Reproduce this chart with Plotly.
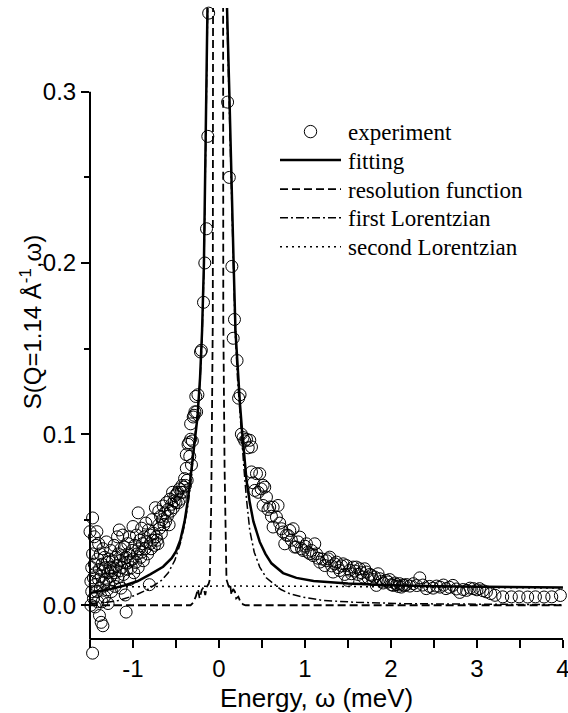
import plotly.graph_objects as go

# ---------------- data ----------------
# experiment, energy-loss side (omega < 0)
exp_energy_neg = [
    -1.50, -1.49, -1.49, -1.48, -1.48, -1.47, -1.47, -1.47, -1.46, -1.46, -1.45, -1.45, -1.44, -1.44, -1.43, -1.43, -1.42, -1.42, -1.41, -1.41, -1.40, -1.40,
    -1.39, -1.39, -1.38, -1.38, -1.37, -1.37, -1.36, -1.36, -1.35, -1.35, -1.34, -1.34, -1.33, -1.33, -1.32, -1.31, -1.31, -1.30, -1.30,
    -1.29, -1.29, -1.28, -1.28, -1.27, -1.26, -1.26, -1.25, -1.25, -1.24, -1.23, -1.23, -1.22, -1.21, -1.21, -1.20,
    -1.19, -1.18, -1.18, -1.17, -1.16, -1.16, -1.15, -1.14, -1.14, -1.13, -1.12, -1.12, -1.11, -1.10, -1.10,
    -1.09, -1.08, -1.08, -1.07, -1.06, -1.06, -1.05, -1.04, -1.04, -1.03, -1.02, -1.01, -1.00, -1.00,
    -0.99, -0.98, -0.97, -0.96, -0.95, -0.94, -0.94, -0.93, -0.92, -0.91, -0.90, -0.90,
    -0.89, -0.88, -0.87, -0.86, -0.85, -0.84, -0.83, -0.82, -0.81, -0.80, -0.80,
    -0.79, -0.78, -0.77, -0.76, -0.75, -0.74, -0.73, -0.72, -0.71, -0.70, -0.70,
    -0.69, -0.68, -0.67, -0.66, -0.65, -0.64, -0.63, -0.62, -0.61, -0.60,
    -0.59, -0.58, -0.57, -0.56, -0.55, -0.54, -0.53, -0.52, -0.51, -0.50,
    -0.49, -0.48, -0.47, -0.46, -0.45, -0.44, -0.43, -0.42, -0.41, -0.40, -0.39, -0.38, -0.38, -0.37, -0.36, -0.35, -0.34,
    -0.33, -0.33, -0.32, -0.31, -0.30, -0.29, -0.28, -0.27, -0.26, -0.245, -0.215, -0.205, -0.18, -0.165, -0.145, -0.13, -0.12,
]
exp_intensity_neg = [
    0.043, 0.014, 0.000, 0.022, 0.008, 0.051, -0.028, 0.030, 0.016, 0.004, 0.040, 0.024, 0.012, -0.001, 0.035, 0.019, 0.008, 0.043, 0.027, 0.002, 0.015, 0.036,
    0.021, -0.006, 0.010, 0.030, 0.017, -0.010, 0.024, 0.002, -0.012, 0.033, 0.013, 0.020, 0.005, 0.028, 0.022, 0.015, 0.037, 0.009, 0.025,
    0.019, 0.001, 0.027, 0.013, 0.022, 0.017, 0.032, 0.020, 0.008, 0.026, 0.015, 0.022, 0.035, 0.019, 0.011, 0.028,
    0.023, 0.040, 0.016, 0.030, 0.020, 0.044, 0.026, 0.010, 0.033, 0.022, 0.029, 0.041, 0.018, 0.025, 0.034,
    0.006, -0.004, 0.028, 0.021, 0.036, 0.025, 0.030, 0.015, 0.040, 0.026, 0.022, 0.032, 0.027, 0.046,
    0.019, 0.035, 0.025, 0.041, 0.030, 0.054, 0.022, 0.033, 0.038, 0.028, 0.045, 0.031,
    0.036, 0.026, 0.040, 0.033, 0.048, 0.037, 0.030, 0.044, 0.012, 0.036, 0.041,
    0.033, 0.050, 0.038, 0.042, 0.035, 0.057, 0.040, 0.038, 0.036, 0.047, 0.055,
    0.045, 0.052, 0.042, 0.050, 0.058, 0.047, 0.054, 0.049, 0.060, 0.052,
    0.056, 0.047, 0.062, 0.055, 0.059, 0.066, 0.057, 0.061, 0.064, 0.060,
    0.065, 0.066, 0.060, 0.068, 0.062, 0.066, 0.070, 0.066, 0.069, 0.074, 0.070, 0.080, 0.088, 0.073, 0.094, 0.095, 0.087,
    0.097, 0.106, 0.082, 0.096, 0.110, 0.111, 0.113, 0.122, 0.113, 0.123, 0.148, 0.149, 0.177, 0.200, 0.220, 0.274, 0.346,
]
# experiment, energy-gain side (omega > 0)
exp_energy_pos = [
    0.10, 0.12, 0.15, 0.165, 0.18, 0.21, 0.228, 0.245, 0.26, 0.28, 0.30, 0.32, 0.34, 0.358, 0.378, 0.378, 0.40, 0.416, 0.436, 0.455,
    0.474, 0.49, 0.513, 0.513, 0.532, 0.552, 0.57, 0.59, 0.61, 0.63, 0.629, 0.668, 0.687, 0.706, 0.726, 0.745, 0.765, 0.785, 0.804, 0.823,
    0.842, 0.862, 0.88, 0.90, 0.92, 0.94, 0.96, 0.978, 1.00, 1.017, 1.035, 1.056, 1.075, 1.095, 1.114, 1.134, 1.15, 1.172, 1.20, 1.23,
    1.25, 1.27, 1.288, 1.31, 1.327, 1.345, 1.366, 1.385, 1.404, 1.425, 1.443, 1.462, 1.482, 1.50, 1.52, 1.54, 1.56, 1.58, 1.598, 1.617,
    1.637, 1.656, 1.676, 1.695, 1.715, 1.735, 1.755, 1.772, 1.79, 1.81, 1.83, 1.85, 1.87, 1.89, 1.91, 1.947, 1.965, 1.985, 2.005, 2.025,
    2.045, 2.065, 2.085, 2.10, 2.12, 2.14, 2.16, 2.18,
    2.22, 2.26, 2.30, 2.335, 2.37, 2.41, 2.45, 2.49, 2.53, 2.57, 2.61, 2.64, 2.68, 2.72, 2.76, 2.80, 2.84, 2.88, 2.92, 2.96,
    3.00, 3.03, 3.07, 3.11, 3.16, 3.21, 3.30, 3.40, 3.49, 3.59, 3.68, 3.78, 3.87, 3.97,
]
exp_intensity_pos = [
    0.294, 0.250, 0.198, 0.156, 0.167, 0.143, 0.121, 0.123, 0.100, 0.098, 0.096, 0.097, 0.092, 0.0964, 0.0925, 0.0779, 0.0715, 0.0671, 0.0769, 0.0660,
    0.0769, 0.0680, 0.0701, 0.0583, 0.0690, 0.0632, 0.0560, 0.0574, 0.0520, 0.0573, 0.0457, 0.0515, 0.0583, 0.0480, 0.0447, 0.0428, 0.0359, 0.0410, 0.0408, 0.0437,
    0.0380, 0.0447, 0.0340, 0.0340, 0.0370, 0.0398, 0.0330, 0.0320, 0.0345, 0.0359, 0.0310, 0.0301, 0.0320, 0.0290, 0.0359, 0.0300, 0.0275, 0.0252, 0.0270, 0.0232,
    0.0260, 0.0271, 0.0281, 0.0230, 0.0194, 0.0242, 0.0252, 0.0220, 0.0203, 0.0230, 0.0242, 0.0180, 0.0232, 0.0145, 0.0205, 0.0184, 0.0223, 0.0200, 0.0223, 0.0180,
    0.0213, 0.0190, 0.0165, 0.0213, 0.0194, 0.0160, 0.0180, 0.0174, 0.0150, 0.0165, 0.0116, 0.0184, 0.0155, 0.0140, 0.0130, 0.0145, 0.0136, 0.0150, 0.0120, 0.0116,
    0.0130, 0.0120, 0.0110, 0.0126, 0.0106, 0.0118, 0.0115, 0.0121,
    0.0112, 0.0126, 0.0115, 0.0160, 0.0118, 0.0097, 0.0110, 0.0100, 0.0112, 0.0106, 0.0118, 0.0097, 0.0105, 0.0116, 0.0095, 0.0075, 0.0092, 0.0087, 0.0100, 0.0097,
    0.0090, 0.0097, 0.0085, 0.0078, 0.0068, 0.0058, 0.0049, 0.0049, 0.0049, 0.0048, 0.0049, 0.0048, 0.0049, 0.0057,
]

# fitting curve
fit_energy = [-1.50, -1.44, -1.30, -1.10, -0.95, -0.80, -0.65, -0.55, -0.50, -0.45, -0.40, -0.36, -0.32, -0.28, -0.25, -0.22,
              -0.197, -0.175, -0.153, -0.13, -0.115, -0.09, -0.01, 0.07, 0.094, 0.12, 0.145, 0.17, 0.192, 0.22, 0.245, 0.27,
              0.29, 0.32, 0.358, 0.40, 0.474, 0.54, 0.61, 0.745, 0.90, 1.10, 1.50, 1.90, 2.50, 3.20, 4.00]
fit_intensity = [0.0072, 0.0077, 0.0090, 0.0115, 0.0140, 0.0180, 0.0225, 0.0275, 0.0315, 0.0380, 0.0490, 0.0620, 0.0790, 0.0960, 0.1100, 0.1330,
                 0.160, 0.200, 0.257, 0.310, 0.348, 0.45, 0.80, 0.45, 0.348, 0.300, 0.257, 0.200, 0.160, 0.135, 0.117, 0.101,
                 0.090, 0.073, 0.060, 0.049, 0.037, 0.030, 0.0245, 0.0188, 0.0160, 0.0142, 0.0127, 0.0118, 0.0111, 0.0106, 0.0103]

# resolution function
res_energy = [-1.50, -0.33, -0.30, -0.27, -0.245, -0.225, -0.20, -0.18, -0.16, -0.14, -0.12, -0.107, -0.09, -0.08, -0.072, -0.069,
              -0.06, -0.01, 0.04, 0.048, 0.05, 0.065, 0.087, 0.10, 0.115, 0.13, 0.145, 0.165, 0.185, 0.20, 0.225, 0.25, 0.28, 0.31, 4.00]
res_intensity = [0.0, 0.0, 0.0015, 0.005, 0.0095, 0.004, 0.009, 0.0105, 0.006, 0.011, 0.0125, 0.015, 0.06, 0.11, 0.167, 0.35,
                 0.8, 2.6, 0.8, 0.35, 0.167, 0.08, 0.015, 0.013, 0.0105, 0.012, 0.006, 0.0095, 0.008, 0.004, 0.005, 0.002, 0.0005, 0.0, 0.0]

# first Lorentzian
lor1_energy = [-1.50, -1.30, -1.17, -0.98, -0.82, -0.669, -0.59, -0.514, -0.45, -0.40, -0.359, -0.32, -0.281, -0.25, -0.22, -0.197,
               -0.175, -0.153, -0.13, -0.11, -0.09, -0.01, 0.07, 0.09, 0.115, 0.14, 0.165, 0.188, 0.215, 0.24, 0.27, 0.29, 0.32,
               0.358, 0.41, 0.474, 0.55, 0.63, 0.72, 0.823, 1.00, 1.21, 1.60, 2.18, 3.00, 4.00]
lor1_intensity = [0.0010, 0.0018, 0.0028, 0.0057, 0.0095, 0.0145, 0.019, 0.0262, 0.036, 0.047, 0.0593, 0.075, 0.098, 0.112, 0.131, 0.155,
                  0.195, 0.25, 0.305, 0.35, 0.45, 0.78, 0.45, 0.35, 0.30, 0.255, 0.20, 0.16, 0.133, 0.113, 0.094, 0.080, 0.062,
                  0.0437, 0.031, 0.0223, 0.016, 0.0126, 0.0092, 0.0067, 0.0045, 0.0028, 0.0017, 0.0009, 0.0005, 0.0003]

# second Lorentzian
lor2_energy = [-1.50, -0.50, 0.00, 1.00, 2.00, 3.00, 4.00]
lor2_intensity = [0.0106, 0.0111, 0.0112, 0.0111, 0.0108, 0.0104, 0.0100]

legend_labels = ["experiment", "fitting", "resolution function", "first Lorentzian", "second Lorentzian"]
x_title = "Energy, ω (meV)"
y_title = "S(Q=1.14 Å<sup>-1</sup>,ω)"
x_tick_vals = [-1, 0, 1, 2, 3, 4]
x_tick_text = ["-1", "0", "1", "2", "3", "4"]
x_minor_vals = [-1.5, -0.5, 0.5, 1.5, 2.5, 3.5]
y_tick_vals = [0.0, 0.1, 0.2, 0.3]
y_tick_text = ["0.0", "0.1", "0.2", "0.3"]
y_minor_vals = [0.05, 0.15, 0.25]

assert len(exp_energy_neg) == len(exp_intensity_neg), (len(exp_energy_neg), len(exp_intensity_neg))
assert len(exp_energy_pos) == len(exp_intensity_pos), (len(exp_energy_pos), len(exp_intensity_pos))
assert len(fit_energy) == len(fit_intensity)
assert len(res_energy) == len(res_intensity)
assert len(lor1_energy) == len(lor1_intensity)

# ---------------- styles ----------------
SANS = "Liberation Sans, Arial, sans-serif"
SERIF = "Liberation Serif, Times New Roman, serif"
X_RANGE = [-1.5, 4.0005]
Y_AXIS_BOTTOM = -0.02          # where the x axis crosses
Y_RANGE = [-0.032, 0.349]      # a little room below the axis for the lowest circle

line_styles = {
    "fitting": dict(color="black", width=2.5, dash="solid"),
    "resolution function": dict(color="black", width=1.8, dash="8px,4px"),
    "first Lorentzian": dict(color="black", width=1.5, dash="8px,3px,2px,3px"),
    "second Lorentzian": dict(color="black", width=1.5, dash="2px,4px"),
}

fig = go.Figure()
fig.add_trace(go.Scatter(x=lor2_energy, y=lor2_intensity, mode="lines", name=legend_labels[4],
                         line=line_styles["second Lorentzian"], showlegend=False))
fig.add_trace(go.Scatter(x=lor1_energy, y=lor1_intensity, mode="lines", name=legend_labels[3],
                         line=line_styles["first Lorentzian"], showlegend=False))
fig.add_trace(go.Scatter(x=res_energy, y=res_intensity, mode="lines", name=legend_labels[2],
                         line=line_styles["resolution function"], showlegend=False))
fig.add_trace(go.Scatter(x=fit_energy, y=fit_intensity, mode="lines", name=legend_labels[1],
                         line=line_styles["fitting"], showlegend=False))
fig.add_trace(go.Scatter(x=exp_energy_neg + exp_energy_pos, y=exp_intensity_neg + exp_intensity_pos,
                         mode="markers", name=legend_labels[0], cliponaxis=False, showlegend=False,
                         marker=dict(symbol="circle-open", size=12, color="black", line=dict(width=1))))

# ---------------- geometry ----------------
W, H = 568, 713
PX_PER_Y = 1710.0
ML, MR, MT = 90, 5, 8
PH = (Y_RANGE[1] - Y_RANGE[0]) * PX_PER_Y
MB = H - MT - PH
PW = W - ML - MR
AXIS_POS = (Y_AXIS_BOTTOM - Y_RANGE[0]) / (Y_RANGE[1] - Y_RANGE[0])


def px_x(px):
    return (px - ML) / PW


def px_y(py):
    return (H - MB - py) / PH


# ---------------- hand-drawn legend (long line samples as in the original) ----------------
rows_y = [131.5, 160, 189, 217.5, 246.5]
sample_x0, sample_x1, text_x = 280, 341, 346
shapes = []
shapes.append(dict(type="circle", xref="paper", yref="paper", xsizemode="pixel", ysizemode="pixel",
                   xanchor=px_x(310.5), yanchor=px_y(rows_y[0]), x0=-6.2, x1=6.2, y0=-6.2, y1=6.2,
                   line=dict(color="black", width=1)))
for lbl, ry in zip(legend_labels[1:], rows_y[1:]):
    st = line_styles[lbl]
    shapes.append(dict(type="line", xref="paper", yref="paper", x0=px_x(sample_x0), x1=px_x(sample_x1),
                       y0=px_y(ry), y1=px_y(ry), line=dict(color="black", width=st["width"], dash=st["dash"])))
# left spine from the x axis up to 0.3, as in the original frame
shapes.append(dict(type="line", xref="paper", yref="y", x0=0, x1=0, y0=Y_AXIS_BOTTOM, y1=0.3,
                   line=dict(color="black", width=2)))

annotations = []
for lbl, ry in zip(legend_labels, rows_y):
    annotations.append(dict(text=lbl, xref="paper", yref="paper", x=px_x(text_x), y=px_y(ry + 1),
                            xanchor="left", yanchor="middle", showarrow=False,
                            font=dict(family=SERIF, size=23, color="black")))
# axis titles, placed where the original has them
annotations.append(dict(text=x_title, xref="paper", yref="paper", x=px_x(316), y=px_y(697),
                        xanchor="center", yanchor="middle", showarrow=False,
                        font=dict(family=SANS, size=26, color="black")))
annotations.append(dict(text=y_title, xref="paper", yref="paper", x=px_x(31), y=px_y(322),
                        xanchor="center", yanchor="middle", showarrow=False, textangle=-90,
                        font=dict(family=SANS, size=24, color="black")))

fig.update_layout(
    width=W, height=H,
    margin=dict(l=ML, r=MR, t=MT, b=MB, pad=0, autoexpand=False),
    paper_bgcolor="white", plot_bgcolor="white",
    showlegend=False,
    shapes=shapes, annotations=annotations,
    font=dict(family=SANS, size=24, color="black"),
)
fig.update_xaxes(
    range=X_RANGE, showgrid=False, zeroline=False, automargin=False,
    anchor="free", position=AXIS_POS,
    showline=True, linecolor="black", linewidth=2,
    ticks="outside", ticklen=8, tickwidth=2, tickcolor="black",
    tickmode="array", tickvals=x_tick_vals, ticktext=x_tick_text,
    tickfont=dict(family=SANS, size=24), ticklabeloverflow="allow",
    minor=dict(tickmode="array", tickvals=x_minor_vals, ticks="outside", ticklen=8, tickwidth=2, tickcolor="black"),
)
fig.update_yaxes(
    range=Y_RANGE, showgrid=False, zeroline=False, showline=False, automargin=False,
    ticks="outside", ticklen=8, tickwidth=2, tickcolor="black",
    tickmode="array", tickvals=y_tick_vals, ticktext=y_tick_text,
    tickfont=dict(family=SANS, size=24),
    minor=dict(tickmode="array", tickvals=y_minor_vals, ticks="outside", ticklen=5, tickwidth=2, tickcolor="black"),
)

fig.write_html("out.html")
